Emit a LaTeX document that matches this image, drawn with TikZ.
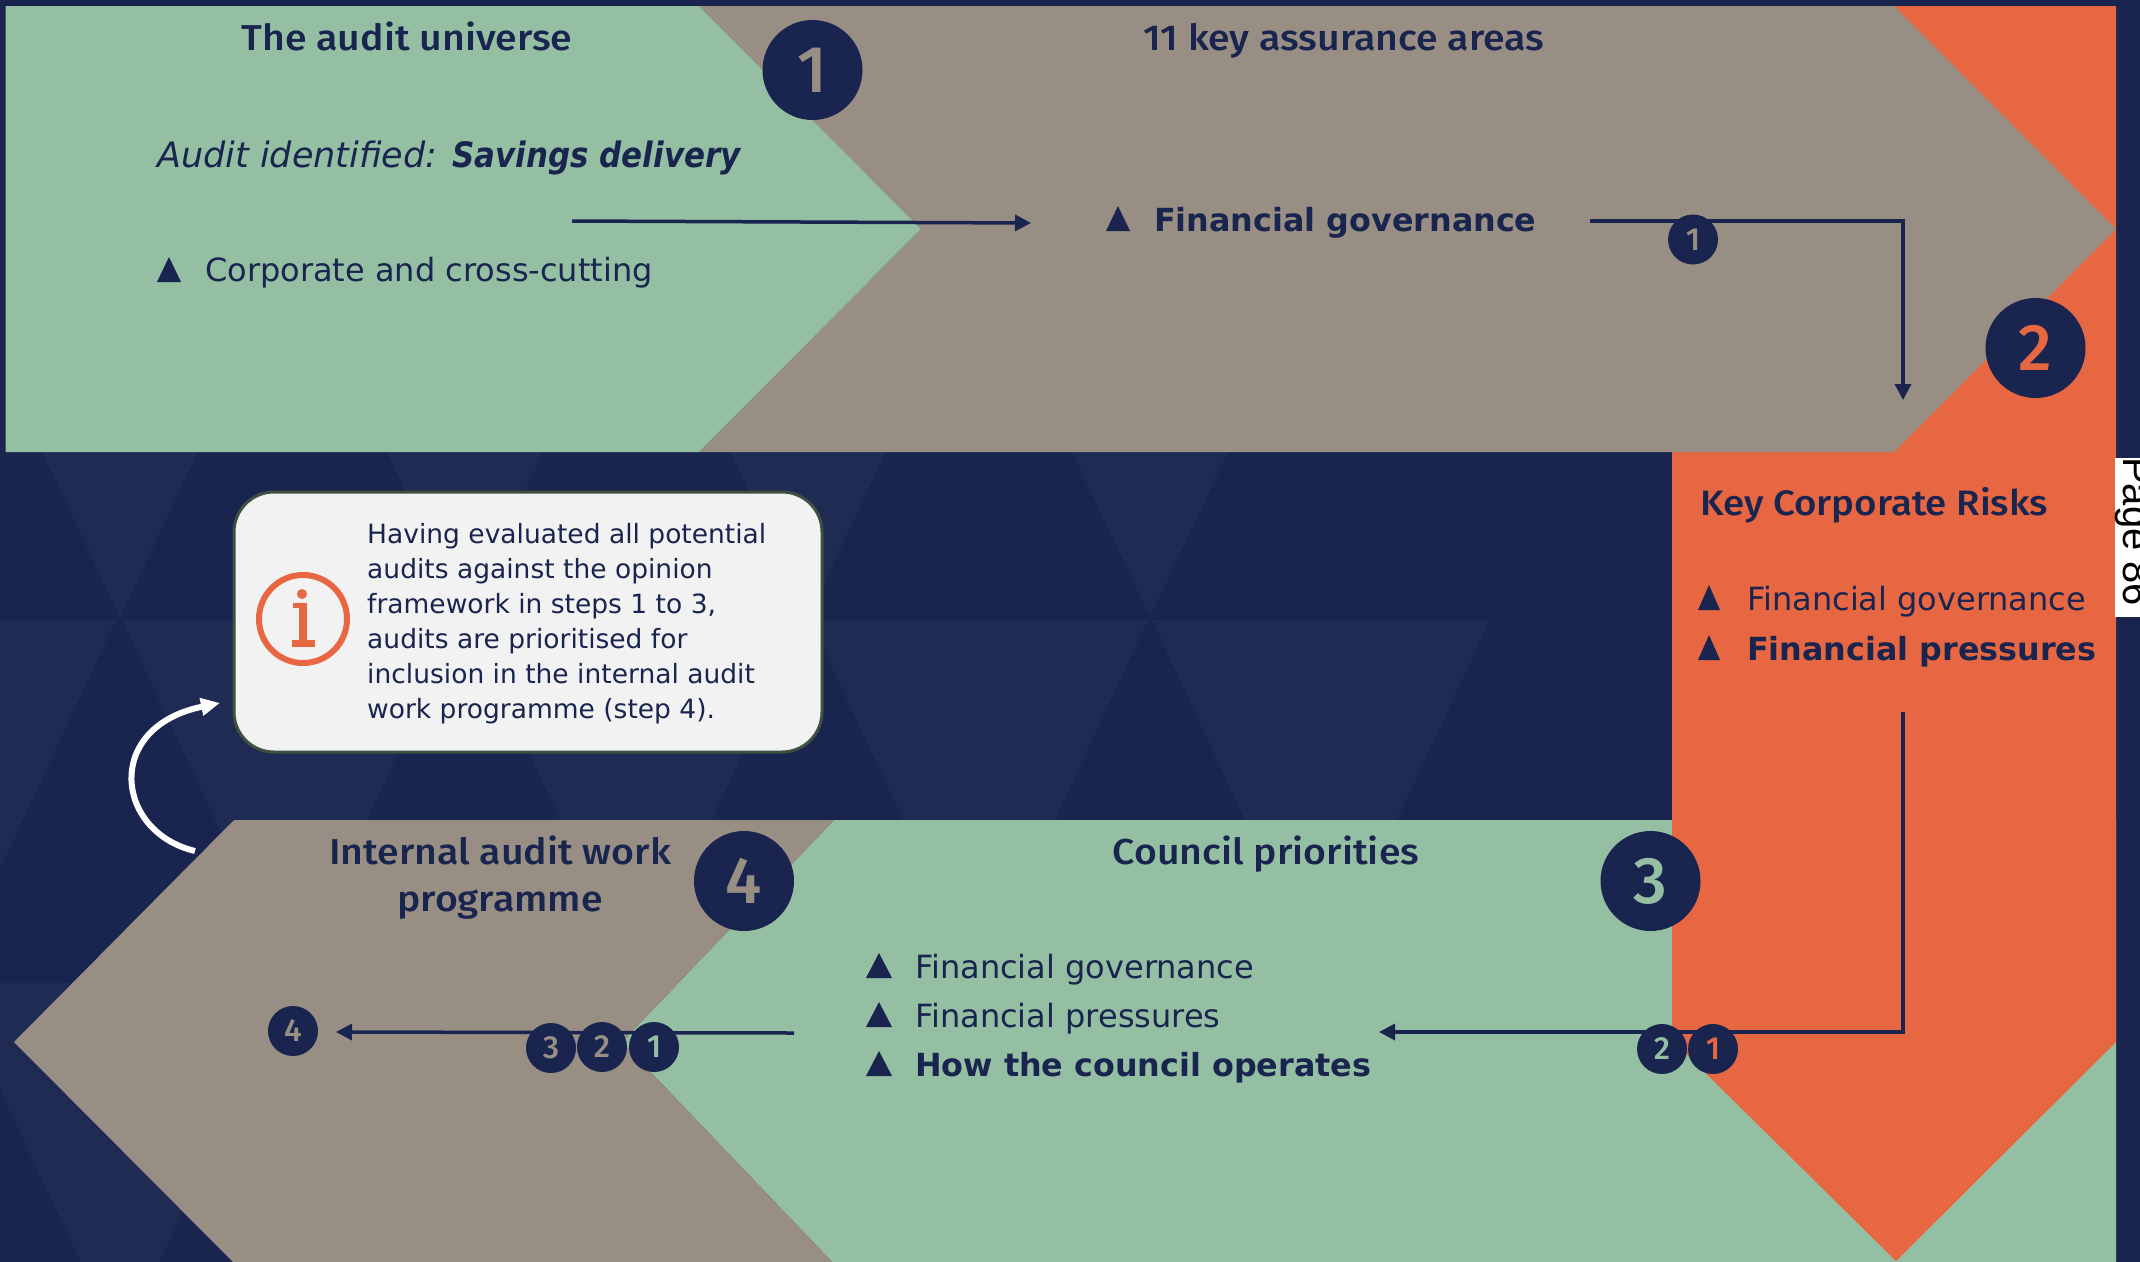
\documentclass[tikz,border=0pt]{standalone}
\usepackage{fontspec}
\setmainfont{DejaVu Sans}
\newfontfamily\headfont[FakeStretch=1.09]{Fira Sans Medium}
\newfontfamily\digitfont{Fira Sans Medium}
\newfontfamily\tagfont{Liberation Sans}
\newfontfamily\slantfont[FakeStretch=0.885]{DejaVu Sans}
\usetikzlibrary{arrows.meta}
\definecolor{navy}{HTML}{19254F}
\definecolor{patch}{HTML}{1F2B53}
\definecolor{sage}{HTML}{95BFA3}
\definecolor{stone}{HTML}{988E83}
\definecolor{coral}{HTML}{E76742}
\definecolor{cloud}{HTML}{F2F2F2}
\definecolor{moss}{HTML}{3E5040}
\tikzset{
    heading/.style={text=navy,font=\headfont\fontsize{36}{48}\selectfont,align=center,inner sep=0pt},
    listitem/.style={text=navy,font=\fontsize{32}{36}\selectfont,anchor=base west,inner sep=0pt},
    strongitem/.style={listitem,font=\fontsize{31.8}{36}\selectfont\bfseries},
    bigstep/.style={circle,fill=navy,minimum size=100pt,inner sep=0pt,font=\digitfont\fontsize{66}{66}\selectfont},
    smallstep/.style={circle,fill=navy,minimum size=50pt,inner sep=0pt,font=\digitfont\fontsize{32}{32}\selectfont},
    flow/.style={draw=navy,line width=3.5pt,-{Triangle[length=16pt,width=16pt]}}
}
\begin{document}
\begin{tikzpicture}[x=1pt,y=-1pt]
    \useasboundingbox (0,0) rectangle (2140,1261);
    \fill[navy] (-5,-5) rectangle (2145,1267);

    % faint triangles behind the chevrons
    \foreach \a in {120,465,808,1150} {
        \fill[patch] (\a-78,452) -- (\a+78,452) -- (\a,617) -- cycle;
    }
    \foreach \a in {-224,120,465,808,1150} {
        \fill[patch] (\a+2,620) -- (\a+340,620) -- (\a+171,983) -- cycle;
    }
    \fill[patch] (-50,983) -- (290,983) -- (120,1346) -- cycle;

    % chevrons
    \fill[sage] (834,820) -- (2116,820) -- (2116,1267) -- (837,1267) -- (622,1042) -- cycle;
    \fill[coral] (1672,6) -- (2116,6) -- (2116,1042) -- (1896,1261) -- (1672,1040) -- cycle;
    \fill[stone] (699,6) -- (1894,6) -- (2116,229) -- (1894,452) -- (699,452) -- (921,229) -- cycle;
    \fill[sage] (5.5,6) -- (699,6) -- (921,229) -- (699,452) -- (5.5,452) -- cycle;
    \fill[stone] (234,820) -- (834,820) -- (622,1042) -- (837,1267) -- (238,1267) -- (14,1042) -- cycle;

    % page tag
    \fill[white] (2115,458) rectangle (2145,617);
    \node[rotate=-90,anchor=base west,inner sep=0pt,text=black,font=\tagfont\fontsize{40}{40}\selectfont] (pagetag) at (2123,457) {Page 86};

    % headings
    \node[heading,anchor=base] (universe) at (407,50) {The audit universe};
    \node[heading,anchor=base] (assurance) at (1344,50) {11 key assurance areas};
    \node[heading,anchor=base west,font=\headfont\fontsize{35.3}{48}\selectfont] (risks) at (1700,515) {Key Corporate Risks};
    \node[heading,anchor=base] (priorities) at (1266,864) {Council priorities};
    \node[heading,anchor=base] (workprog) at (500,864) {Internal audit work};
    \node[heading,anchor=base] (workprogb) at (500,911) {programme};

    % list texts
    \node[listitem,font=\fontsize{35}{36}\selectfont] (identified) at (157,167) {\itshape Audit identified: {\slantfont\bfseries\itshape Savings delivery}};
    \node[listitem] (corporate) at (205,281) {Corporate and cross-cutting};
    \node[strongitem] (govgrey) at (1154,231) {Financial governance};
    \node[listitem] (govrisk) at (1747,610) {Financial governance};
    \node[strongitem] (pressrisk) at (1747,660) {Financial pressures};
    \node[listitem] (govprio) at (915,978) {Financial governance};
    \node[listitem] (pressprio) at (915,1027) {Financial pressures};
    \node[strongitem] (howprio) at (915,1076) {How the council operates};

    % bullets
    \foreach \x/\y/\w in {157/282/24, 1106/231/24, 1698/610/22, 1698/660/22, 866/978/26, 866/1027/26, 866/1076/26} {
        \fill[navy] (\x,\y) -- ++(\w/2,-25) -- ++(\w/2,25) -- cycle;
    }

    % connectors
    \coordinate (auditend) at (572,221);
    \coordinate (govin) at (1031,223);
    \coordinate (govend) at (1590,221);
    \coordinate (riskin) at (1903,400);
    \coordinate (riskout) at (1903,712);
    \coordinate (prioin) at (1379,1032);
    \coordinate (prioend) at (794,1033);
    \coordinate (progin) at (336,1032);
    \draw[flow] (auditend) -- (govin);
    \draw[flow] (govend) -| (riskin);
    \draw[flow] (riskout) |- (prioin);
    \draw[flow] (prioend) -- (progin);

    % step circles
    \node[bigstep,text=stone] (stepa) at (812.5,70) {1};
    \node[bigstep,text=coral] (stepb) at (2035.5,348) {2};
    \node[bigstep,text=sage] (stepc) at (1650.5,881) {3};
    \node[bigstep,text=stone] (stepd) at (744,881) {4};
    \foreach \n/\x/\y/\c/\t in {ga/1693/239.5/stone/1, pa/654/1047/sage/1, pb/602/1047/stone/2, pc/551/1048/stone/3, pd/293/1031/stone/4, ra/1713/1049/coral/1, rb/1662/1049/sage/2} {
        \node[smallstep,text=\c] (\n) at (\x,\y) {\t};
    }

    % callout
    \node[draw=moss,line width=3pt,fill=cloud,rounded corners=40pt,minimum width=588pt,minimum height=260pt,inner sep=0pt] (callout) at (528,622) {};
    \node[text=navy,anchor=north west,inner sep=0pt,align=left,font=\fontsize{26.5}{35}\selectfont] (callouttext) at (367,523) {Having evaluated all potential\\audits against the opinion\\framework in steps 1 to 3,\\audits are prioritised for\\inclusion in the internal audit\\work programme (step 4).};

    % info icon
    \node[circle,draw=coral,line width=6pt,minimum size=88pt,inner sep=0pt] (info) at (303,619) {};
    \fill[coral] (302,594) circle (5);
    \fill[coral] (293,603) rectangle (307,608);
    \fill[coral] (299,603) rectangle (307,646);
    \fill[coral] (292,640) rectangle (315,647);

    % curved arrow to the callout
    \coordinate (curvestart) at (195,851);
    \coordinate (curveend) at (220,703);
    \draw[white,line width=6pt,-{Triangle[length=19pt,width=17pt]}] (curvestart) .. controls (115,832) and (103,727) .. (curveend);
\end{tikzpicture}
\end{document}
